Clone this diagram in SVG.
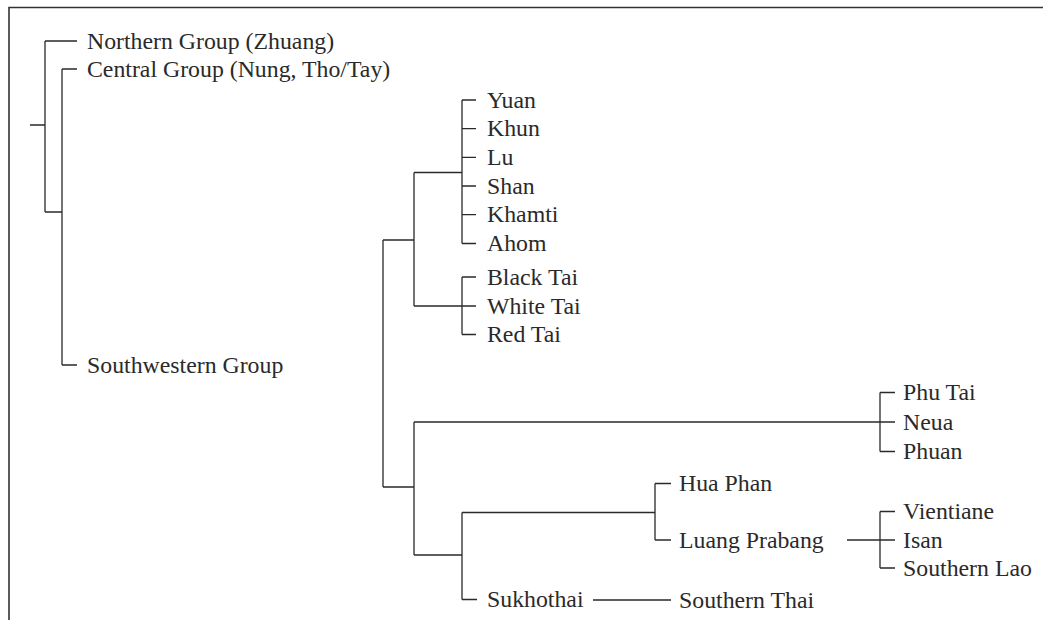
<svg xmlns="http://www.w3.org/2000/svg" width="1043" height="620" viewBox="0 0 1043 620">
<style>
.ln{fill:none;stroke:#2a2a2a;stroke-width:1.3}
.fr{fill:none;stroke:#333;stroke-width:1.6}
text{font-family:"Liberation Serif","Times New Roman",serif;font-size:23.8px;fill:#2a2a2a}
</style>
<rect width="1043" height="620" fill="#fff"/>
<path class="fr" d="M9,620 V7.5 H1043"/>
<g id="connectors" class="ln">
<path d="M30,125 H45 M45,41 V212 M45,41 H77 M45,212 H62 M62,69 V365 M62,69 H77 M62,365 H77"/>
<path d="M383,240 V487 M383,240 H414 M414,172.5 V306 M414,172.5 H462 M462,100 V243.5"/>
<path d="M462,100 H476 M462,128.7 H476 M462,157.4 H476 M462,186 H476 M462,214.7 H476 M462,243.5 H476"/>
<path d="M414,306 H476 M462,277 V334.5 M462,277 H476 M462,334.5 H476"/>
<path d="M383,487 H414 M414,422 V555 M414,422 H895 M880,392.5 V451.5 M880,392.5 H895 M880,451.5 H895"/>
<path d="M414,555 H462 M462,512.5 V599.5 M462,512.5 H655 M655,483.5 V540 M655,483.5 H671 M655,540 H671 M462,599.5 H477 M593,600 H671"/>
<path d="M847,540 H895 M880,511.5 V568 M880,511.5 H895 M880,568 H895"/>
</g>
<g id="n-northern"><text x="87" y="48.5">Northern Group (Zhuang)</text></g>
<g id="n-central"><text x="87" y="76.5">Central Group (Nung, Tho/Tay)</text></g>
<g id="n-southwestern"><text x="87" y="372.5">Southwestern Group</text></g>
<g id="n-yuan"><text x="487" y="107.5">Yuan</text></g>
<g id="n-khun"><text x="487" y="136.2">Khun</text></g>
<g id="n-lu"><text x="487" y="164.9">Lu</text></g>
<g id="n-shan"><text x="487" y="193.5">Shan</text></g>
<g id="n-khamti"><text x="487" y="222.2">Khamti</text></g>
<g id="n-ahom"><text x="487" y="251">Ahom</text></g>
<g id="n-blacktai"><text x="487" y="284.5">Black Tai</text></g>
<g id="n-whitetai"><text x="487" y="313.5">White Tai</text></g>
<g id="n-redtai"><text x="487" y="342">Red Tai</text></g>
<g id="n-phutai"><text x="903" y="400">Phu Tai</text></g>
<g id="n-neua"><text x="903" y="429.5">Neua</text></g>
<g id="n-phuan"><text x="903" y="459">Phuan</text></g>
<g id="n-huaphan"><text x="679" y="491">Hua Phan</text></g>
<g id="n-luangprabang"><text x="679" y="547.5">Luang Prabang</text></g>
<g id="n-vientiane"><text x="903" y="519">Vientiane</text></g>
<g id="n-isan"><text x="903" y="547.5">Isan</text></g>
<g id="n-southernlao"><text x="903" y="575.5">Southern Lao</text></g>
<g id="n-sukhothai"><text x="487" y="607">Sukhothai</text></g>
<g id="n-southernthai"><text x="679" y="607.5">Southern Thai</text></g>
</svg>
